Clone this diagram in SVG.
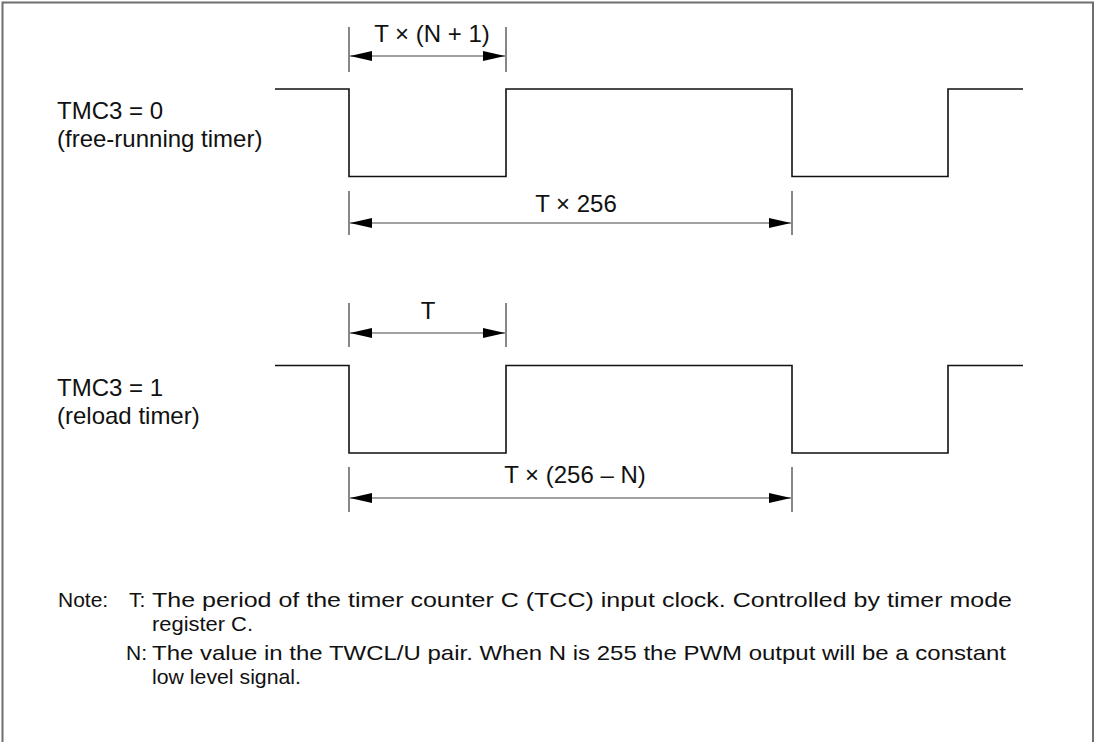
<svg xmlns="http://www.w3.org/2000/svg" width="1095" height="742" viewBox="0 0 1095 742">
<defs>
<style>
.frame{fill:none;stroke:#6e6e6e;stroke-width:2}
.wave{fill:none;stroke:#111;stroke-width:1.6}
.tick{fill:none;stroke:#111;stroke-width:1}
.dim{fill:none;stroke:#444;stroke-width:1.2}
.lbl{font-family:"Liberation Sans",Arial,sans-serif;font-size:24px;fill:#111}
.note{font-family:"Liberation Sans",Arial,sans-serif;font-size:21px;fill:#111}
</style>
<marker id="ah" markerUnits="userSpaceOnUse" markerWidth="23" markerHeight="11" refX="22" refY="5" orient="auto-start-reverse">
<path d="M0,0 L22,5 L0,10 z" fill="#000"/>
</marker>
</defs>
<rect width="1095" height="742" fill="#fff"/>
<path class="frame" d="M2.5,742 V2.5 H1093 V742"/>

<g id="label-tmc3-0">
<text class="lbl" x="57" y="119">TMC3 = 0</text>
<text class="lbl" x="57" y="147">(free-running timer)</text>
</g>
<g id="label-tmc3-1">
<text class="lbl" x="57" y="396">TMC3 = 1</text>
<text class="lbl" x="57" y="424">(reload timer)</text>
</g>

<g id="wave-1">
<path class="wave" d="M275,89 H349 V176.5 H506 V89 H792 V176.5 H948 V89 H1023"/>
</g>
<g id="wave-2">
<path class="wave" d="M275,365.5 H349 V453 H506 V365.5 H792 V453 H948 V365.5 H1023"/>
</g>

<g id="connectors">
<g id="dim-n1">
<path class="tick" d="M349,27 V72 M506,27 V72"/>
<path class="dim" d="M350,56 H505" marker-start="url(#ah)" marker-end="url(#ah)"/>
<text class="lbl" x="432" y="42" text-anchor="middle">T × (N + 1)</text>
</g>
<g id="dim-256">
<path class="tick" d="M349,191 V235 M792,191 V235"/>
<path class="dim" d="M350,223 H791" marker-start="url(#ah)" marker-end="url(#ah)"/>
<text class="lbl" x="576" y="212" text-anchor="middle">T × 256</text>
</g>
<g id="dim-t">
<path class="tick" d="M349,303 V347 M506,303 V347"/>
<path class="dim" d="M350,333 H505" marker-start="url(#ah)" marker-end="url(#ah)"/>
<text class="lbl" x="428" y="319" text-anchor="middle">T</text>
</g>
<g id="dim-256n">
<path class="tick" d="M349,467 V512 M792,467 V512"/>
<path class="dim" d="M350,498 H791" marker-start="url(#ah)" marker-end="url(#ah)"/>
<text class="lbl" x="575" y="483" text-anchor="middle">T × (256 – N)</text>
</g>
</g>

<g id="note">
<text class="note" x="58" y="607">Note:</text>
<text class="note" x="129" y="607">T:</text>
<text class="note" x="152" y="607" textLength="860" lengthAdjust="spacingAndGlyphs">The period  of the timer counter C (TCC) input clock. Controlled by timer mode</text>
<text class="note" x="152" y="631" textLength="101" lengthAdjust="spacingAndGlyphs">register C.</text>
<text class="note" x="126" y="660">N:</text>
<text class="note" x="152" y="660" textLength="854" lengthAdjust="spacingAndGlyphs">The value in the TWCL/U pair. When N is 255 the PWM output will be a constant</text>
<text class="note" x="152" y="684" textLength="149" lengthAdjust="spacingAndGlyphs">low level signal.</text>
</g>
</svg>
